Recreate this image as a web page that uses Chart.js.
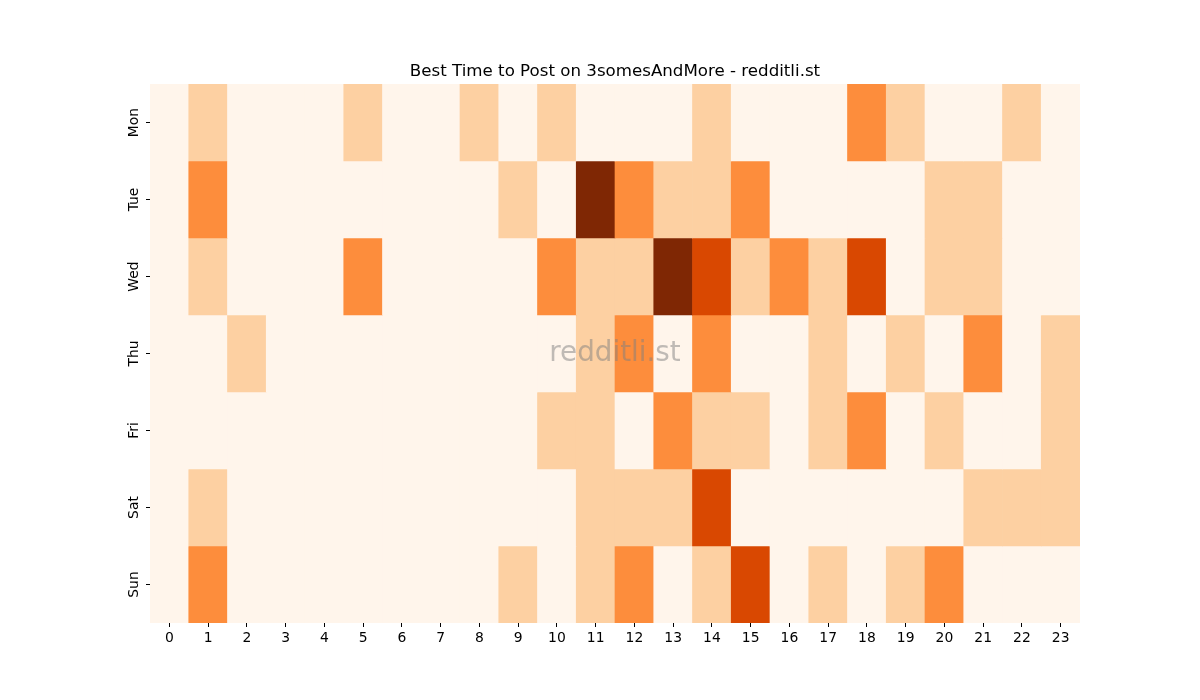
<!DOCTYPE html>
<html>
<head>
<meta charset="utf-8">
<title>Best Time to Post on 3somesAndMore</title>
<script src="https://cdn.jsdelivr.net/npm/chart.js@4.4.0/dist/chart.umd.min.js"></script>
<style>
  html, body { margin: 0; padding: 0; background: #fff; }
</style>
</head>
<body>
<canvas id="heatChart" width="1200" height="700"></canvas>
<script>
// hours on x, days on y; values are colour levels 0..4 (Oranges)
const hours = ["0","1","2","3","4","5","6","7","8","9","10","11","12","13","14","15","16","17","18","19","20","21","22","23"];
const days = ["Mon", "Tue", "Wed", "Thu", "Fri", "Sat", "Sun"];

const mon = [0,1,0,0,0,1,0,0,1,0,1,0,0,0,1,0,0,0,2,1,0,0,1,0];
const tue = [0,2,0,0,0,0,0,0,0,1,0,4,2,1,1,2,0,0,0,0,1,1,0,0];
const wed = [0,1,0,0,0,2,0,0,0,0,2,1,1,4,3,1,2,1,3,0,1,1,0,0];
const thu = [0,0,1,0,0,0,0,0,0,0,0,1,2,0,2,0,0,1,0,1,0,2,0,1];
const fri = [0,0,0,0,0,0,0,0,0,0,1,1,0,2,1,1,0,1,2,0,1,0,0,1];
const sat = [0,1,0,0,0,0,0,0,0,0,0,1,1,1,3,0,0,0,0,0,0,1,1,1];
const sun = [0,2,0,0,0,0,0,0,0,1,0,1,2,0,1,3,0,1,0,1,2,0,0,0];

const levelColors = ["#fff5eb", "#fdd0a2", "#fd8d3c", "#d94801", "#7f2704"];

const rows = [mon, tue, wed, thu, fri, sat, sun];

Chart.defaults.font.family = "'DejaVu Sans', sans-serif";
Chart.defaults.font.size = 13.9;
Chart.defaults.color = "#000";

// one dataset per day: floating bars spanning the day's row
const datasets = rows.map((vals, d) => ({
  label: days[d],
  data: vals.map(() => [d - 0.5, d + 0.5]),
  backgroundColor: vals.map(v => levelColors[v]),
  borderWidth: 0,
  grouped: false,
  barPercentage: 1,
  categoryPercentage: 1
}));

const watermark = {
  id: "watermark",
  afterDatasetsDraw(chart) {
    const { ctx, chartArea } = chart;
    ctx.save();
    ctx.font = "27.8px 'DejaVu Sans'";
    ctx.fillStyle = "rgba(128,128,128,0.5)";
    ctx.textAlign = "center";
    ctx.textBaseline = "middle";
    ctx.fillText("redditli.st", (chartArea.left + chartArea.right) / 2, (chartArea.top + chartArea.bottom) / 2);
    ctx.restore();
  }
};

new Chart(document.getElementById("heatChart").getContext("2d"), {
  type: "bar",
  data: { labels: hours, datasets: datasets },
  options: {
    responsive: false,
    animation: false,
    layout: { padding: { left: 100, right: 70, top: 0, bottom: 37 } },
    plugins: {
      legend: { display: false },
      tooltip: { enabled: false },
      title: {
        display: true,
        text: "Best Time to Post on 3somesAndMore - redditli.st",
        color: "#000",
        font: { size: 16.67, weight: "normal" },
        padding: { top: 62, bottom: 2 }
      }
    },
    scales: {
      x: {
        type: "category",
        offset: true,
        grid: { offset: false, drawOnChartArea: false, tickLength: 4, tickColor: "#000" },
        border: { display: false },
        ticks: { padding: 3, maxRotation: 0, autoSkip: false },
        afterFit: (s) => { s.height = 40; }
      },
      y: {
        type: "linear",
        min: -0.5,
        max: 6.5,
        reverse: true,
        grid: { drawOnChartArea: false, tickLength: 4, tickColor: "#000" },
        border: { display: false },
        afterBuildTicks: (s) => { s.ticks = days.map((d, i) => ({ value: i })); },
        ticks: {
          minRotation: 90,
          maxRotation: 90,
          crossAlign: "center",
          padding: -4,
          callback: (v) => days[v]
        },
        afterFit: (s) => { s.width = 50; }
      },
      // empty spacer on the right so the title centres over the plot
      yRight: {
        type: "linear",
        position: "right",
        grid: { display: false },
        border: { display: false },
        ticks: { display: false },
        afterFit: (s) => { s.width = 50; }
      }
    }
  },
  plugins: [watermark]
});
</script>
</body>
</html>
